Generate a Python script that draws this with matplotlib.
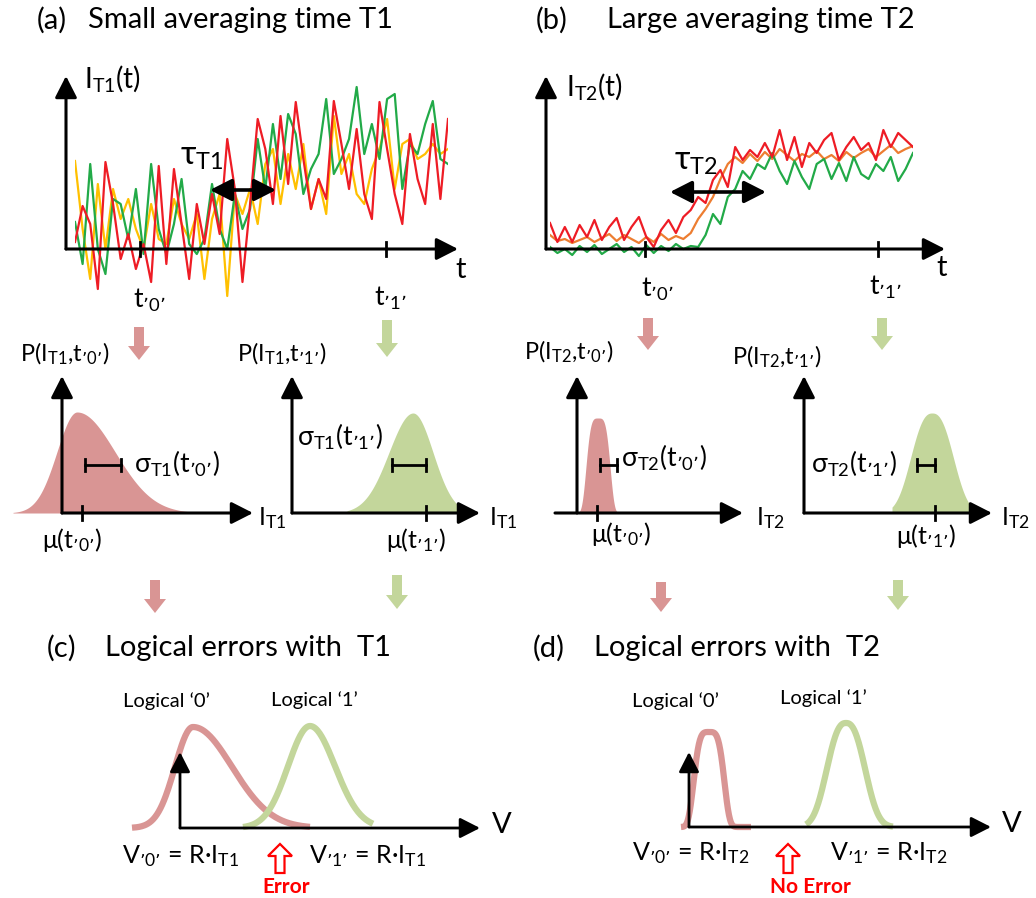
import math

import matplotlib

matplotlib.use("Agg")
import matplotlib.pyplot as plt

W, H = 1036, 898

# noisy current traces, small averaging time T1 (heights above the baseline)
t1_green = [27, -15, 85, 0, -25, 50, 45, 10, 60, -5, 85, 20, -5, 25, 70, 5, -5, 10, 65, 20,
            0, 55, 20, 40, 110, 60, 125, 70, 135, 115, 55, 80, 95, 150, 75, 90, 110, 162, 95, 125,
            90, 150, 155, 60, 105, 95, 125, 148, 90, 85]
t1_red = [7, 43, 25, -40, 87, 45, -10, 15, -20, 5, -33, 83, -15, 80, 25, -30, 45, 5, 55, 15,
          110, 60, -33, 45, 130, 100, 45, 133, 65, 147, 90, 40, 70, 50, 148, 105, 60, 120, 55, 30,
          147, 100, 55, 25, 115, 70, 45, 125, 50, 130]
t1_yellow = [88, 20, -30, 65, 0, 60, 30, 50, 20, 0, 45, 10, 5, 50, 25, 10, 35, -30, 30, 55,
             -47, 55, 35, 60, 25, 85, 100, 45, 95, 60, 105, 40, 70, 35, 133, 75, 95, 55, 45, 80,
             100, 130, 60, 105, 110, 90, 95, 105, 95, 100]

# large averaging time T2
t2_red = [26, 7, 22, 7, 24, 12, 29, 9, 22, 31, 9, 22, 32, 12, 2, 19, 29, 16, 32, 39,
          52, 46, 69, 79, 62, 102, 89, 99, 92, 106, 92, 119, 89, 112, 82, 106, 96, 109, 116, 89,
          102, 112, 99, 106, 89, 119, 102, 116, 109, 102]
t2_orange = [14, 8, 10, 6, 9, 12, 7, 11, 15, 8, 14, 10, 6, 12, 7, 15, 9, 13, 10, 16,
             30, 40, 52, 70, 85, 92, 86, 95, 88, 97, 90, 100, 94, 88, 95, 92, 98, 90, 94, 88,
             97, 91, 96, 100, 92, 98, 104, 96, 100, 103]
t2_green = [2, -4, 0, -6, 3, -3, 4, -5, 0, 5, -3, 2, -7, 4, -4, 3, -2, 5, 0, 3,
            2, 14, 35, 25, 52, 60, 78, 70, 85, 80, 96, 78, 65, 88, 72, 60, 85, 90, 70, 86,
            68, 92, 75, 70, 85, 78, 92, 68, 80, 96]

# current distributions: (T1,'0'), (T1,'1'), (T2,'0'), (T2,'1')
dist_mode = [15, 121, 21, 128]
dist_wl = [20, 24, 11, 20]
dist_wr = [38, 20, 11, 20]
dist_pow = [2, 2, 4, 2.5]
dist_peak = [101, 100, 95, 100]
dist_range = [(-49, 125), (55, 185), (-4, 45), (88, 171)]
dist_mu = [20, 134, 20, 131]
dist_sigma = [36, 34, 17, 18]

# voltage distributions for logical '0' and '1'
volt_mode = [13, 130, 20, 157]
volt_wl = [18, 22, 14, 18]
volt_wr = [39, 25, 14, 18]
volt_pow = [2, 2, 4, 2.5]
volt_peak = [101, 102, 95, 104]
volt_range = [(-48, 130), (63, 193), (-8, 62), (117, 204)]

PINK = "#D99594"
LGREEN = "#C3D69B"
RED = "#EE1C25"
GREEN = "#22AA48"
YELLOW = "#FFC000"
ORANGE = "#ED7D31"

plt.rcParams["font.family"] = ["Lato", "DejaVu Sans"]
plt.rcParams["mathtext.default"] = "regular"

fig = plt.figure(figsize=(W / 100, H / 100), dpi=100)


def box_axes(left, top, right, bottom, xlim, ylim):
    a = fig.add_axes([left / W, 1 - bottom / H, (right - left) / W, (bottom - top) / H])
    a.set_xlim(*xlim)
    a.set_ylim(*ylim)
    a.axis("off")
    return a


def density(x, mode, wl, wr, p, peak):
    w = wl if x < mode else wr
    return peak * math.exp(-0.5 * (abs(x - mode) / w) ** p)


def curve(i, mode, wl, wr, pw, peak, rng):
    xs = [rng[0] + (rng[1] - rng[0]) * k / 200 for k in range(201)]
    ys = [density(x, mode[i], wl[i], wr[i], pw[i], peak[i]) for x in xs]
    return xs, ys


# time traces
for (left, right, base), series in [
    ((75, 448, 249), [(t1_yellow, YELLOW), (t1_green, GREEN), (t1_red, RED)]),
    ((550, 913, 249), [(t2_orange, ORANGE), (t2_green, GREEN), (t2_red, RED)]),
]:
    ta = box_axes(left, base - 180, right, base + 50, (0, 49), (-50, 180))
    for vals, c in series:
        ta.plot(range(len(vals)), vals, color=c, lw=1.6, solid_joinstyle="round")

# current distributions, origins at the P axes
dist_origin = [(62, 513), (292, 513), (577, 513), (804, 513)]
dist_xtip = [253, 480, 743, 992]
dist_col = [PINK, LGREEN, PINK, LGREEN]
for i, (ox, oy) in enumerate(dist_origin):
    da = box_axes(ox - 60, oy - 120, ox + 200, oy + 5, (-60, 200), (-5, 120))
    xs, ys = curve(i, dist_mode, dist_wl, dist_wr, dist_pow, dist_peak, dist_range[i])
    da.fill_between(xs, 0, ys, color=dist_col[i], lw=0)
    da.plot([dist_mu[i]] * 2, [-7, 7], color="black", lw=2, clip_on=False)
    if i % 2 == 0:
        s0, s1 = dist_mu[i] + 3, dist_mu[i] + 3 + dist_sigma[i]
    else:
        s0, s1 = dist_mu[i] - dist_sigma[i], dist_mu[i]
    da.plot([s0, s1], [48, 48], color="black", lw=2)
    da.plot([s0, s0], [42, 54], color="black", lw=2)
    da.plot([s1, s1], [42, 54], color="black", lw=2)

# voltage distributions
volt_origin = [(180, 828), (180, 828), (689, 827), (689, 827)]
for i, (ox, oy) in enumerate(volt_origin):
    va = box_axes(ox - 70, oy - 120, ox + 230, oy + 10, (-70, 230), (-10, 120))
    xs, ys = curve(i, volt_mode, volt_wl, volt_wr, volt_pow, volt_peak, volt_range[i])
    va.plot(xs, ys, color=dist_col[i], lw=4.5, solid_capstyle="butt")

# annotation layer in pixel coordinates
ax = fig.add_axes([0, 0, 1, 1])
ax.set_xlim(0, W)
ax.set_ylim(H, 0)
ax.axis("off")
ax.patch.set_alpha(0)


def axis_arrow(x0, y0, x1, y1, lw=2.2, ms=24):
    ax.annotate("", xy=(x1, y1), xytext=(x0, y0),
                arrowprops=dict(arrowstyle="-|>,head_length=0.55,head_width=0.28",
                                color="black", lw=lw, mutation_scale=ms,
                                shrinkA=0, shrinkB=0))


def txt(x, y, s, size=18, **kw):
    ax.text(x, y, s, fontsize=size, ha=kw.pop("ha", "left"), va=kw.pop("va", "center"), **kw)


# titles
txt(37, 20, "(a)", 21)
txt(88, 20, "Small averaging time T1", 21)
txt(536, 20, "(b)", 21)
txt(607, 20, "Large averaging time T2", 21)
txt(47, 648, "(c)", 21)
txt(105, 648, "Logical errors with  T1", 21)
txt(533, 648, "(d)", 21)
txt(594, 648, "Logical errors with  T2", 21)

# time axes
for ox, oy, xtip, ytip, ticks in [(66, 249, 458, 76, (140, 386)),
                                  (546, 249, 945, 76, (645, 878))]:
    axis_arrow(ox, oy, ox, ytip)
    axis_arrow(ox, oy, xtip, oy)
    for tx in ticks:
        ax.plot([tx, tx], [oy - 7, oy + 7], color="black", lw=2)
txt(84, 79, "I$_{T1}$(t)", 20)
txt(566, 86, "I$_{T2}$(t)", 20)
txt(455, 270, "t", 21)
txt(936, 268, "t", 21)
txt(133, 300, "t$_{’0’}$", 19)
txt(374, 298, "t$_{’1’}$", 19)
txt(641, 289, "t$_{’0’}$", 19)
txt(869, 287, "t$_{’1’}$", 19)

# response time arrows
txt(180, 157, "τ$_{T1}$", 24)
txt(674, 162, "τ$_{T2}$", 24)
for x0, x1, y in [(210, 276, 190), (670, 766, 192)]:
    ax.annotate("", xy=(x1, y), xytext=(x0, y),
                arrowprops=dict(arrowstyle="<|-|>,head_length=0.55,head_width=0.28",
                                color="black", lw=2.6, mutation_scale=24,
                                shrinkA=0, shrinkB=0))

# block arrows from traces to distributions and on to voltages
for x, y0, y1, c in [(139, 327, 360, PINK), (387, 320, 357, LGREEN),
                     (648, 318, 350, PINK), (882, 318, 350, LGREEN),
                     (155, 580, 613, PINK), (397, 575, 609, LGREEN),
                     (661, 582, 612, PINK), (898, 580, 610, LGREEN)]:
    ax.arrow(x, y0, 0, y1 - y0, width=10, head_width=22, head_length=14,
             length_includes_head=True, color=c, lw=0)

# distribution axes and labels
for i, (ox, oy) in enumerate(dist_origin):
    axis_arrow(ox, oy, ox, 376)
    axis_arrow(ox - (22 if i == 2 else 0), oy, dist_xtip[i], oy)

txt(20, 354, "P(I$_{T1}$,t$_{’0’}$)", 17)
txt(237, 354, "P(I$_{T1}$,t$_{’1’}$)", 17)
txt(524, 352, "P(I$_{T2}$,t$_{’0’}$)", 17)
txt(732, 357, "P(I$_{T2}$,t$_{’1’}$)", 17)
txt(134, 464, "σ$_{T1}$(t$_{’0’}$)", 19)
txt(297, 437, "σ$_{T1}$(t$_{’1’}$)", 19)
txt(621, 458, "σ$_{T2}$(t$_{’0’}$)", 19)
txt(811, 464, "σ$_{T2}$(t$_{’1’}$)", 19)
txt(42, 540, "μ(t$_{’0’}$)")
txt(386, 540, "μ(t$_{’1’}$)")
txt(591, 534, "μ(t$_{’0’}$)")
txt(896, 536, "μ(t$_{’1’}$)")
txt(258, 518, "I$_{T1}$")
txt(489, 518, "I$_{T1}$")
txt(756, 518, "I$_{T2}$")
txt(1001, 518, "I$_{T2}$")

# voltage axes
for ox, oy, xtip, vx in [(180, 828, 480, 492), (689, 827, 991, 1002)]:
    axis_arrow(ox, oy, ox, 752, lw=2, ms=22)
    axis_arrow(ox, oy, xtip, oy, lw=2, ms=22)
    txt(vx, oy - 3, "V", 21)

txt(123, 701, "Logical ‘0’", 14.5)
txt(271, 700, "Logical ‘1’", 14.5)
txt(632, 701, "Logical ‘0’", 14.5)
txt(780, 698, "Logical ‘1’", 14.5)
txt(122, 856, "V$_{’0’}$ = R·I$_{T1}$", 18)
txt(309, 856, "V$_{’1’}$ = R·I$_{T1}$", 18)
txt(632, 853, "V$_{’0’}$ = R·I$_{T2}$", 18)
txt(830, 853, "V$_{’1’}$ = R·I$_{T2}$", 18)

# threshold markers
for x, label in [(280, "Error"), (788, "No Error")]:
    ax.arrow(x, 873, 0, -29, width=9, head_width=24, head_length=12,
             length_includes_head=True, fc="white", ec="#FF0000", lw=1.6)
    ax.text(x + (6 if label == "Error" else 22), 887, label, fontsize=15, color="#FF0000",
            fontweight="bold", ha="center", va="center")

fig.savefig("out.png", dpi=100)
